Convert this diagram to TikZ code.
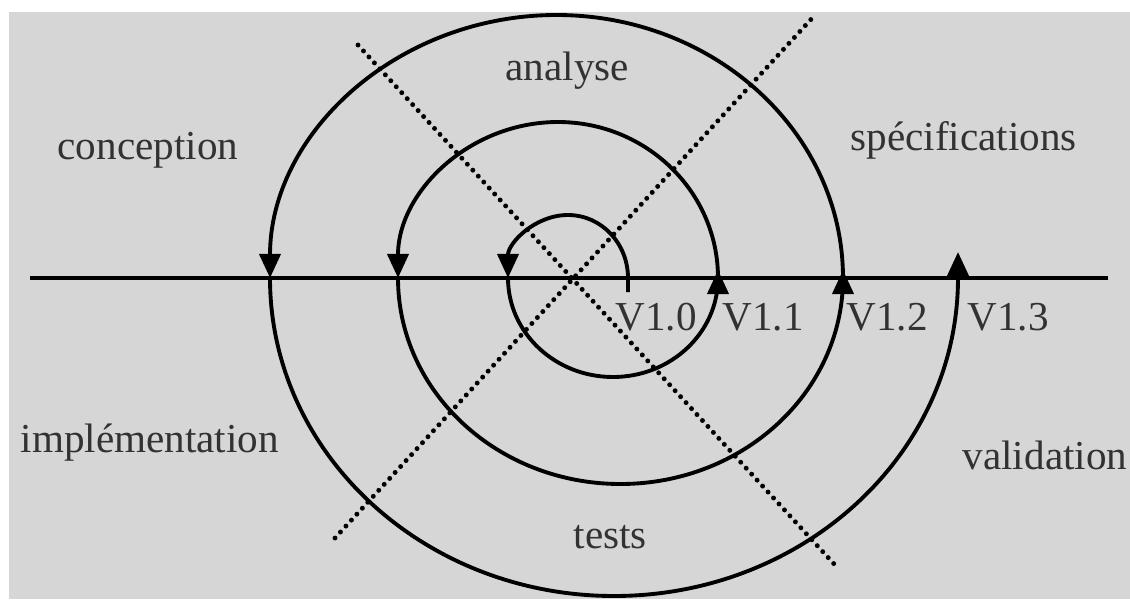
\documentclass[tikz,border=0pt]{standalone}
\usepackage{fontspec}
\setmainfont{Liberation Serif}
\usepackage{tikz}
\usetikzlibrary{arrows.meta}
\definecolor{paper}{RGB}{214,214,214}
\definecolor{txtgray}{RGB}{50,50,50}
\newcommand{\lblfont}{\fontsize{11.7pt}{14pt}\selectfont}

\begin{document}
\begin{tikzpicture}[
x=0.01cm,y=0.01cm,
lbl/.style={anchor=base west,inner sep=0pt,font=\lblfont,text=txtgray},
loop/.style={line width=1.1pt,-{Triangle[length=2.4mm,width=2.1mm]}},
axe/.style={line width=1.2pt},
diag/.style={line width=1.4pt,line cap=round,dash pattern=on 0pt off 2.3pt}
]
\useasboundingbox (0,0) rectangle (1130,599);
\fill[paper] (9,0) rectangle (1130,587);
% axis and crossing points
\coordinate (axL) at (30,321);
\coordinate (axR) at (1108,321);
\coordinate (v0s) at (628,307);
\coordinate (v0) at (628,321);
\coordinate (a1) at (508,321);
\coordinate (v1) at (718,321);
\coordinate (a2) at (398,321);
\coordinate (v2) at (843,321);
\coordinate (a3) at (270,321);
\coordinate (v3) at (958,321);
% diagonals
\coordinate (dAs) at (358,554);
\coordinate (dAe) at (835,34);
\coordinate (dBs) at (335,61);
\coordinate (dBe) at (815,584);
\draw[diag] (dAs) -- (dAe);
\draw[diag] (dBs) -- (dBe);
\draw[axe] (axL) -- (axR);
% spiral
\draw[loop] (v0s) -- (v0) arc[start angle=0,end angle=180,x radius=60,y radius=63];
\draw[loop] (a1) arc[start angle=180,end angle=360,x radius=105,y radius=99] -- ++(0,8);
\draw[loop] (v1) arc[start angle=0,end angle=180,x radius=160,y radius=156];
\draw[loop] (a2) arc[start angle=180,end angle=360,x radius=222.5,y radius=206] -- ++(0,8);
\draw[loop] (v2) arc[start angle=0,end angle=180,x radius=286.5,y radius=263];
\draw[loop] (a3) arc[start angle=180,end angle=360,x radius=344,y radius=318] -- ++(0,26);
% phases
\node[lbl] (ana) at (505,519) {analyse};
\node[lbl] (conc) at (57,440) {conception};
\node[lbl] (spec) at (850,449) {spécifications};
\node[lbl] (impl) at (20,147) {implémentation};
\node[lbl] (vali) at (962,130) {validation};
\node[lbl] (test) at (573,51) {tests};
% versions
\node[lbl] (l0) at (615,269) {V1.0};
\node[lbl] (l1) at (722,269) {V1.1};
\node[lbl] (l2) at (846,269) {V1.2};
\node[lbl] (l3) at (967,269) {V1.3};
\end{tikzpicture}
\end{document}
